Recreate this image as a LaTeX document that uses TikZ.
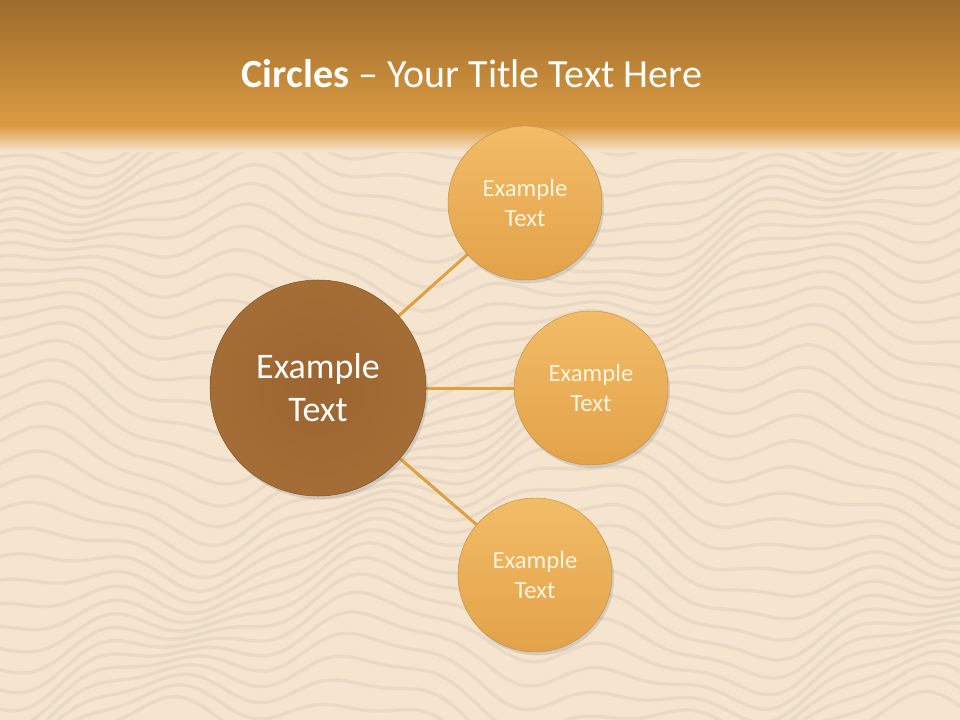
\documentclass[tikz,border=0pt]{standalone}
\usepackage{fontspec}
\setmainfont{Carlito}
\usetikzlibrary{shadows}
\definecolor{bgwood}{HTML}{F5E5CF}
\definecolor{grain}{HTML}{D9CBBE}
\definecolor{bandtop}{HTML}{9D6B2B}
\definecolor{bandbot}{HTML}{DB9B42}
\definecolor{bigin}{HTML}{9C6531}
\definecolor{bigout}{HTML}{A46D36}
\definecolor{smalltop}{HTML}{F2BC66}
\definecolor{smallbot}{HTML}{E2A24A}
\definecolor{linkcol}{HTML}{E0A042}
\definecolor{smalltext}{HTML}{FFF4DE}
\tikzset{
  bigcircle/.style={circle, minimum size=162pt, inner sep=0pt,
    inner color=bigin, outer color=bigout, draw=bigout!80!black, line width=0.4pt,
    text=white, font=\fontsize{27pt}{32.25pt}\selectfont, align=center,
    drop shadow={opacity=0.25, shadow xshift=1.5pt, shadow yshift=-2.5pt}},
  smallcircle/.style={circle, minimum size=115.5pt, inner sep=0pt,
    top color=smalltop, bottom color=smallbot, draw=smallbot!85!black, line width=0.3pt,
    text=smalltext, font=\fontsize{18.5pt}{22.5pt}\selectfont, align=center,
    drop shadow={opacity=0.25, shadow xshift=1.5pt, shadow yshift=-2.5pt}},
  link/.style={draw=linkcol, line width=2.25pt},
  grainline/.style={draw=grain, line width=2.6pt, opacity=0.4, line cap=round}
}
\begin{document}
\begin{tikzpicture}[x=0.75pt, y=-0.75pt]
\useasboundingbox (0,0) rectangle (960,720);
% background
\fill[bgwood] (0,0) rectangle (960,720);
% faint wood grain (flowing contour-like lines)
\begin{scope}
\clip (0,0) rectangle (960,720);
\foreach \k in {0,...,38} {
  \pgfmathsetmacro{\yy}{100+\k*17}
  \draw[grainline] plot[smooth, domain=-20:980, samples=60]
    (\x, {\yy + 32*sin(\x*0.5 + \yy*0.7) + 16*sin(\x*1.4 - \yy*0.4) + 7*sin(\x*2.9 + \yy*1.1)});
}
\end{scope}
% title band
\fill[top color=bandtop, bottom color=bandbot] (0,0) rectangle (960,126);
\fill[top color=bandbot, bottom color=bgwood] (0,126) rectangle (960,152);
\node[text=white, font=\fontsize{30pt}{36pt}\selectfont, anchor=base] (title) at (472,88)
  {\textbf{Circles} – Your Title Text Here};
% circles
\coordinate (cbig) at (318,388);
\coordinate (ctop) at (525,203);
\coordinate (cmid) at (591,388);
\coordinate (cbot) at (535,575);
\draw[link] (cbig) -- (ctop);
\draw[link] (cbig) -- (cmid);
\draw[link] (cbig) -- (cbot);
\node[bigcircle] (big) at (cbig) {Example\\Text};
\node[smallcircle] (top) at (ctop) {Example\\Text};
\node[smallcircle] (mid) at (cmid) {Example\\Text};
\node[smallcircle] (bot) at (cbot) {Example\\Text};
\end{tikzpicture}
\end{document}
